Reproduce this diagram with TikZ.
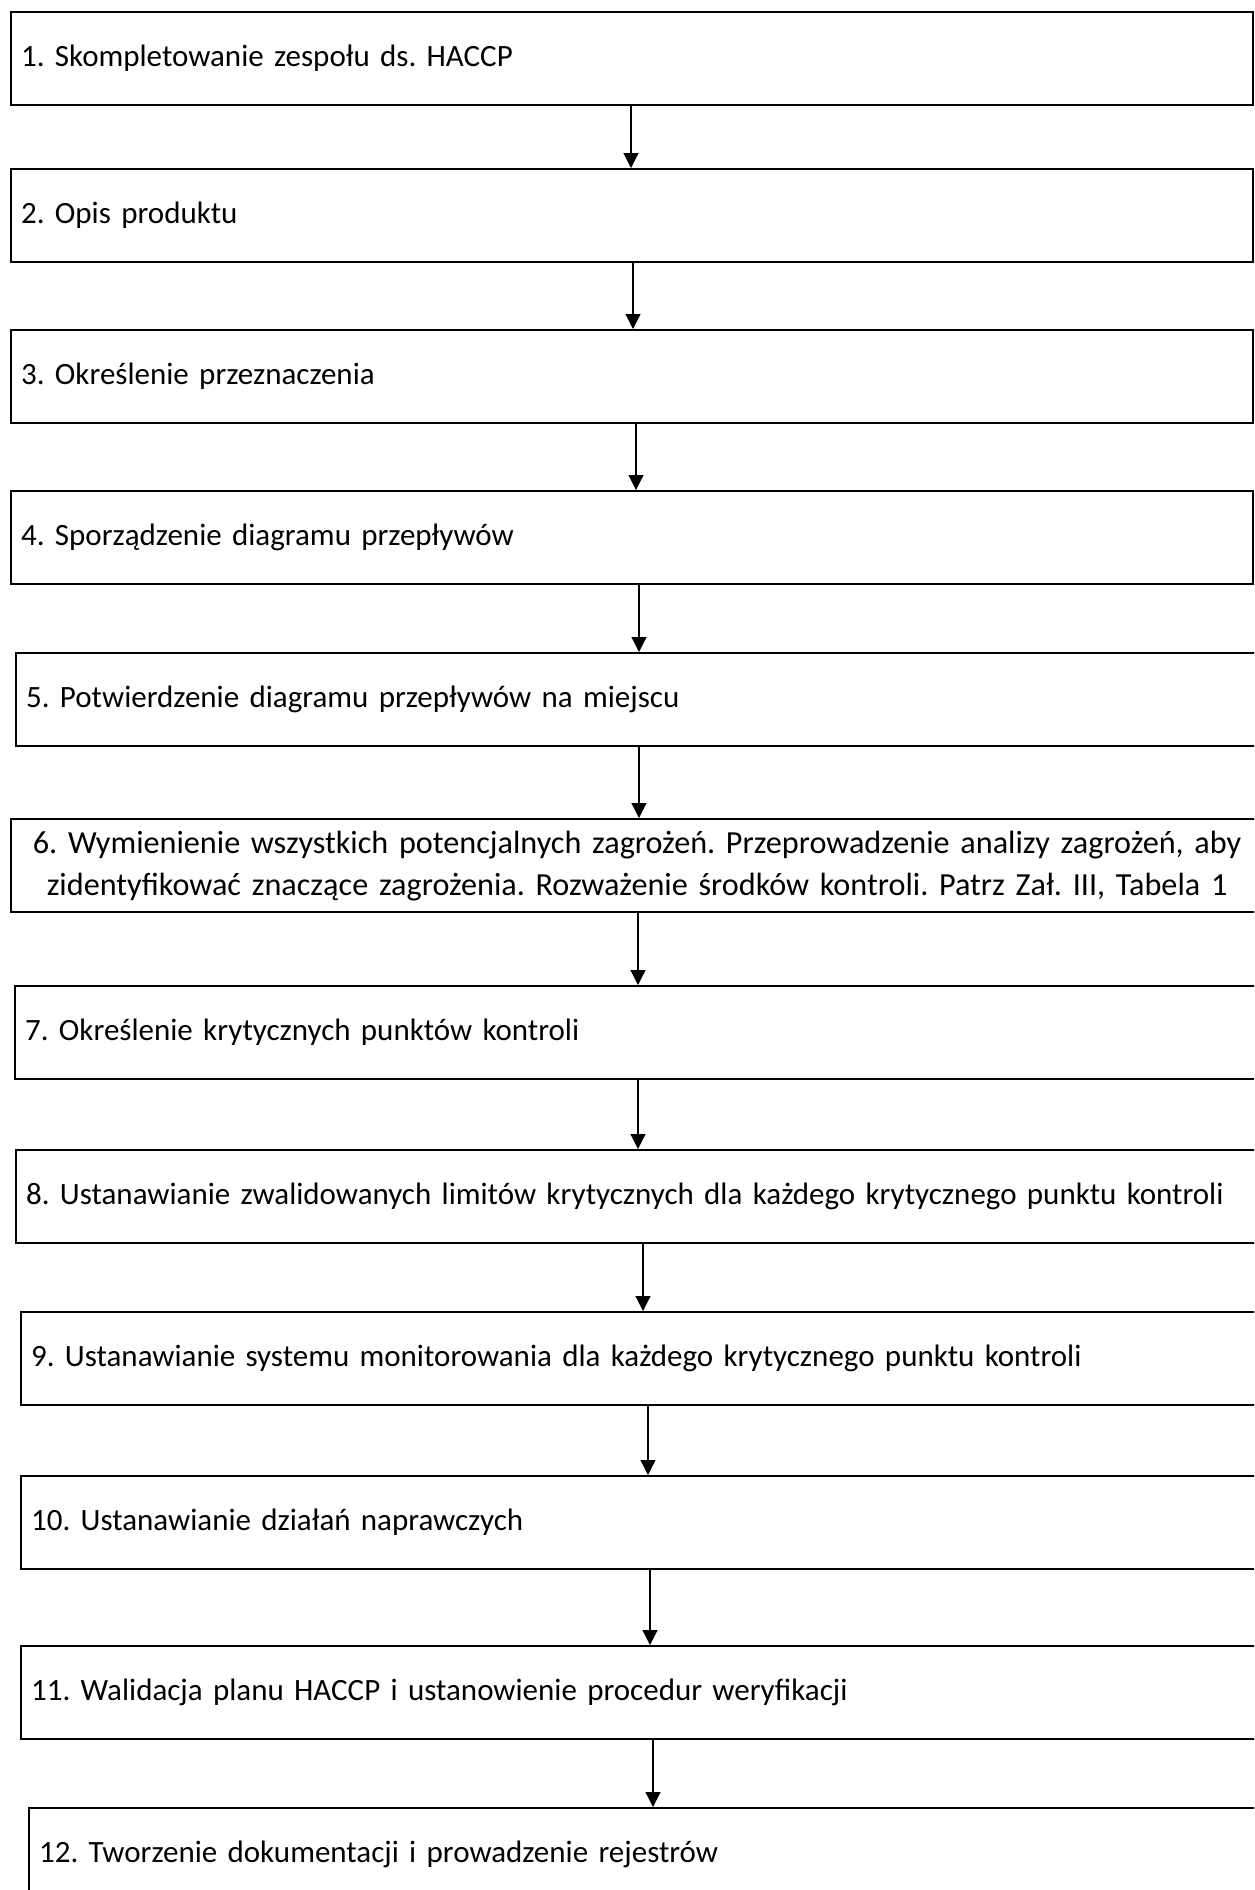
\documentclass[tikz,border=0pt]{standalone}
\usepackage{fontspec}
\setmainfont{Carlito}
\frenchspacing
\usetikzlibrary{arrows.meta}
\begin{document}
\begin{tikzpicture}[x=0.5pt, y=-0.5pt,
    stepbox/.style={draw, line width=1.1pt, anchor=north west, inner xsep=5pt,
      minimum height=46.5pt, text width=#1, align=left,
      font=\fontsize{15.5}{21}\selectfont},
    flow/.style={-{Triangle[length=7.5pt,width=7.5pt]}, line width=0.6pt}]
   \useasboundingbox (0,0) rectangle (1254,1890);
   \clip (0,0) rectangle (1254,1890);
      \node[stepbox=611pt] (s1) at (10,11) {1. Skompletowanie zespołu ds. HACCP};
      \node[stepbox=611pt] (s2) at (10,168) {2. Opis produktu};
      \node[stepbox=611pt] (s3) at (10,329) {3. Określenie przeznaczenia};
      \node[stepbox=611pt] (s4) at (10,490) {4. Sporządzenie diagramu przepływów};
      \node[stepbox=613.5pt] (s5) at (15,652) {5. Potwierdzenie diagramu przepływów na miejscu};
      \node[stepbox=616pt, align=center, font=\fontsize{16.1}{21}\selectfont] (s6) at (10,818) {6. Wymienienie wszystkich potencjalnych zagrożeń. Przeprowadzenie analizy zagrożeń, aby\\ zidentyfikować znaczące zagrożenia. Rozważenie środków kontroli. Patrz Zał. III, Tabela 1};
      \node[stepbox=614pt] (s7) at (14,985) {7. Określenie krytycznych punktów kontroli};
      \node[stepbox=613.5pt] (s8) at (15,1149) {8. Ustanawianie zwalidowanych limitów krytycznych dla każdego krytycznego punktu kontroli};
      \node[stepbox=611pt] (s9) at (20,1311) {9. Ustanawianie systemu monitorowania dla każdego krytycznego punktu kontroli};
      \node[stepbox=611pt] (s10) at (20,1475) {10. Ustanawianie działań naprawczych};
      \node[stepbox=611pt] (s11) at (20,1645) {11. Walidacja planu HACCP i ustanowienie procedur weryfikacji};
      \node[stepbox=607pt] (s12) at (28,1807) {12. Tworzenie dokumentacji i prowadzenie rejestrów};
      \foreach \a/\b/\x in {1/2/631, 2/3/633, 3/4/636, 4/5/639, 5/6/639, 6/7/638,
                            7/8/638, 8/9/643, 9/10/648, 10/11/650, 11/12/653}
         \draw[flow] (s\a.south -| \x,0) -- (s\b.north -| \x,0);
   \end{tikzpicture}
\end{document}
